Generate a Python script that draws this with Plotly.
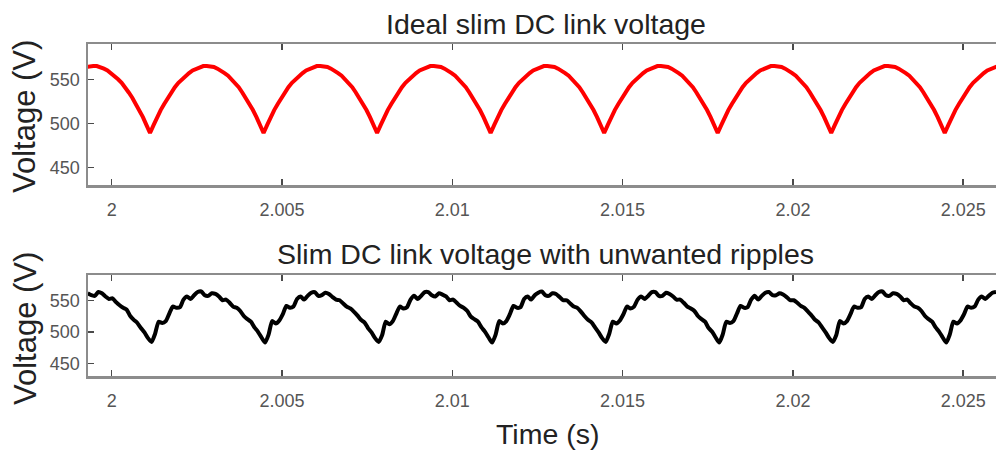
import plotly.graph_objects as go

# ---- data ----
# sampling of both traces (s)
top_t0 = 1.99925
bot_t0 = 1.999295
sample_dt = 0.000104167

# Ideal slim DC link voltage (V)
ideal_v = [
    564, 565, 565, 565, 564, 562, 560, 557, 554, 550, 546, 541, 535, 529, 522, 515, 507, 498,
    489, 498, 507, 515, 522, 529, 535, 541, 546, 550, 554, 557, 560, 562, 564, 565, 565, 565, 564, 562, 560, 557, 554, 550, 546, 541, 535, 529, 522, 515, 507, 498,
    489, 498, 507, 515, 522, 529, 535, 541, 546, 550, 554, 557, 560, 562, 564, 565, 565, 565, 564, 562, 560, 557, 554, 550, 546, 541, 535, 529, 522, 515, 507, 498,
    489, 498, 507, 515, 522, 529, 535, 541, 546, 550, 554, 557, 560, 562, 564, 565, 565, 565, 564, 562, 560, 557, 554, 550, 546, 541, 535, 529, 522, 515, 507, 498,
    489, 498, 507, 515, 522, 529, 535, 541, 546, 550, 554, 557, 560, 562, 564, 565, 565, 565, 564, 562, 560, 557, 554, 550, 546, 541, 535, 529, 522, 515, 507, 498,
    489, 498, 507, 515, 522, 529, 535, 541, 546, 550, 554, 557, 560, 562, 564, 565, 565, 565, 564, 562, 560, 557, 554, 550, 546, 541, 535, 529, 522, 515, 507, 498,
    489, 498, 507, 515, 522, 529, 535, 541, 546, 550, 554, 557, 560, 562, 564, 565, 565, 565, 564, 562, 560, 557, 554, 550, 546, 541, 535, 529, 522, 515, 507, 498,
    489, 498, 507, 515, 522, 529, 535, 541, 546, 550, 554, 557, 560, 562, 564, 565, 565, 565, 564, 562, 560, 557, 554, 550, 546, 541, 535, 529, 522, 515, 507, 498,
    489, 498, 507, 515, 522, 529, 535, 541, 546, 550, 554, 557, 560, 562, 564, 565,
]

# Slim DC link voltage with unwanted ripples (V)
ripple_v = [
    561, 558, 557, 563, 561, 556, 552, 553, 547, 542, 538, 535, 525, 519, 514, 506, 499, 490,
    484, 497, 516, 514, 517, 529, 540, 538, 539, 551, 556, 552, 558, 563, 564, 558, 557, 561, 560, 556, 550, 551, 546, 540, 538, 533, 525, 520, 516, 507, 500, 491,
    483, 496, 517, 513, 518, 528, 541, 538, 540, 552, 556, 551, 557, 562, 563, 557, 558, 562, 560, 555, 551, 550, 545, 540, 537, 532, 526, 519, 515, 506, 499, 490,
    484, 495, 516, 512, 517, 529, 540, 537, 539, 551, 557, 552, 557, 563, 563, 558, 556, 561, 559, 556, 550, 551, 546, 541, 538, 533, 524, 520, 516, 507, 500, 491,
    483, 496, 517, 513, 517, 528, 541, 538, 539, 552, 556, 551, 558, 562, 564, 558, 557, 561, 560, 555, 550, 550, 545, 540, 538, 532, 525, 519, 515, 507, 499, 490,
    484, 497, 516, 513, 518, 528, 540, 537, 540, 551, 556, 552, 557, 563, 563, 557, 557, 562, 560, 556, 551, 551, 546, 540, 537, 533, 525, 520, 516, 506, 500, 491,
    483, 496, 516, 514, 517, 529, 541, 538, 539, 551, 557, 551, 557, 562, 563, 558, 558, 561, 559, 555, 550, 550, 546, 541, 538, 532, 526, 519, 515, 507, 499, 490,
    484, 495, 517, 513, 517, 528, 540, 538, 539, 552, 556, 552, 558, 563, 564, 558, 557, 561, 560, 556, 550, 551, 545, 540, 538, 533, 525, 520, 516, 507, 500, 491,
    483, 496, 516, 513, 518, 528, 540, 538, 540, 551, 556, 552, 557, 562, 563,
]

x_range = [1.999304, 2.025963]
y_range = [430, 590]
x_tickvals = [2, 2.005, 2.01, 2.015, 2.02, 2.025]
x_ticktext = ["2", "2.005", "2.01", "2.015", "2.02", "2.025"]
y_tickvals = [450, 500, 550]
y_ticktext = ["450", "500", "550"]

title_top = "Ideal slim DC link voltage"
title_bot = "Slim DC link voltage with unwanted ripples"
y_label = "Voltage (V)"
x_label = "Time (s)"

# ---- figure ----
FONT = "Liberation Sans, Arial, sans-serif"
SPINE = "#8c8c8c"
TICKC = "#4a4a4a"

fig = go.Figure()
fig.add_trace(go.Scatter(y=ideal_v, x0=top_t0, dx=sample_dt, mode="lines",
                         line=dict(color="#ff0000", width=4),
                         xaxis="x", yaxis="y", showlegend=False, hoverinfo="skip"))
fig.add_trace(go.Scatter(y=ripple_v, x0=bot_t0, dx=sample_dt, mode="lines",
                         line=dict(color="#000000", width=4, shape="spline", smoothing=0.6),
                         xaxis="x2", yaxis="y2", showlegend=False, hoverinfo="skip"))

W, H = 996, 453
ML, MR, MT, MB = 88, 0, 44, 77
PW, PH = W - ML - MR, H - MT - MB


def px_y(Y):
    return (H - MB - Y) / PH


def px_x(X):
    return (X - ML) / PW


xcommon = dict(range=x_range, tickvals=x_tickvals, ticktext=x_ticktext,
               showgrid=False, zeroline=False, showline=True, linecolor=SPINE, linewidth=2.5,
               mirror="ticks", ticks="inside", ticklen=6, tickwidth=1.5, tickcolor=TICKC,
               tickfont=dict(family=FONT, size=18, color="#555555"), ticklabelstandoff=7)
ycommon = dict(range=y_range, tickvals=y_tickvals, ticktext=y_ticktext,
               showgrid=False, zeroline=False, showline=True, linecolor=SPINE, linewidth=2.5,
               mirror=False, ticks="inside", ticklen=6, tickwidth=1.5, tickcolor=TICKC,
               tickfont=dict(family=FONT, size=18, color="#555555"), ticklabelstandoff=2)

fig.update_layout(
    width=W, height=H,
    margin=dict(l=ML, r=MR, t=MT, b=MB, pad=0),
    paper_bgcolor="white", plot_bgcolor="white",
    hovermode=False,
    xaxis=dict(domain=[0, 1], anchor="y", **xcommon),
    yaxis=dict(domain=[px_y(185), 1], anchor="x", **ycommon),
    xaxis2=dict(domain=[0, 1], anchor="y2", **xcommon),
    yaxis2=dict(domain=[0, px_y(275)], anchor="x2", **ycommon),
)

title_font = dict(family=FONT, size=28.5, color="#222222")
ylab_font = dict(family=FONT, size=31, color="#222222")
annotations = [
    dict(text=title_top, x=px_x(546), y=px_y(24), font=title_font),
    dict(text=title_bot, x=px_x(545), y=px_y(254), font=title_font),
    dict(text=x_label, x=px_x(547), y=px_y(434), font=title_font),
    dict(text=y_label, x=px_x(25), y=px_y(117), textangle=-90, font=ylab_font),
    dict(text=y_label, x=px_x(25), y=px_y(329), textangle=-90, font=ylab_font),
]
for a in annotations:
    fig.add_annotation(xref="paper", yref="paper", showarrow=False,
                       xanchor="center", yanchor="middle", **a)

fig.write_html("out.html", config={"displayModeBar": False, "staticPlot": True},
               post_script="document.body.style.margin='0';document.body.style.overflow='hidden';")
